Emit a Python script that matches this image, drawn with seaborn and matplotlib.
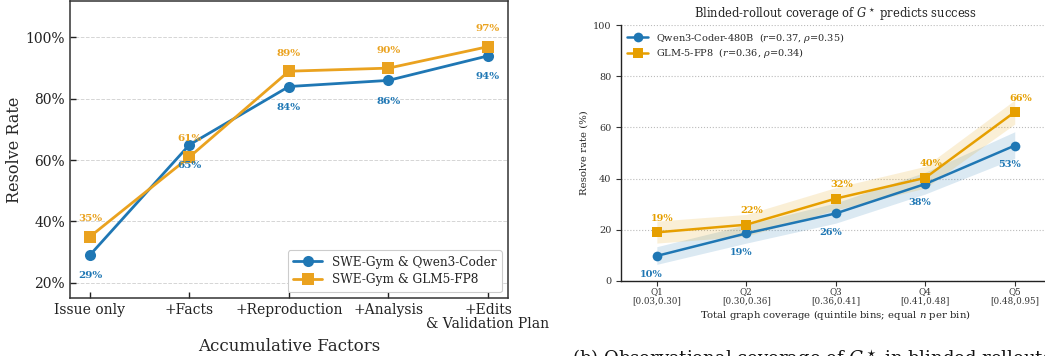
import numpy as np
import pandas as pd
import matplotlib
matplotlib.use("Agg")
import matplotlib.pyplot as plt
from matplotlib.ticker import FuncFormatter
import seaborn as sns

# ---- (a) accumulative factors ----
stages = ["Issue only", "+Facts", "+Reproduction", "+Analysis", "+Edits\n& Validation Plan"]
qwen_resolve = [29, 65, 84, 86, 94]
glm_resolve = [35, 61, 89, 90, 97]
series_a = ["SWE-Gym & Qwen3-Coder", "SWE-Gym & GLM5-FP8"]

# ---- (b) coverage quintiles ----
bins = ["Q1\n[0.03,0.30]", "Q2\n[0.30,0.36]", "Q3\n[0.36,0.41]", "Q4\n[0.41,0.48]", "Q5\n[0.48,0.95]"]
qwen_rate = [9.8, 18.6, 26.4, 37.9, 52.9]
qwen_lo = [6.5, 14.8, 22.6, 34.0, 47.9]
qwen_hi = [13.4, 22.0, 30.5, 42.5, 58.3]
glm_rate = [19.0, 22.0, 32.2, 40.3, 66.0]
glm_lo = [14.8, 17.5, 27.8, 36.3, 61.3]
glm_hi = [23.4, 26.0, 36.5, 44.8, 70.7]
series_b = [r"Qwen3-Coder-480B  ($r$=0.37, $\rho$=0.35)",
            r"GLM-5-FP8  ($r$=0.36, $\rho$=0.34)"]

BLUE = "#1f77b4"
ORANGE_A = "#EAA21F"
ORANGE_B = "#E69F00"

sns.set_theme(style="white")
plt.rcParams["font.family"] = ["DejaVu Serif"]
plt.rcParams["mathtext.fontset"] = "dejavuserif"

fig = plt.figure(figsize=(10.45, 3.56), dpi=100)

# ================= left panel =================
ax1 = fig.add_axes([0.067, 0.163, 0.419, 0.835])
idx = np.arange(len(stages))
df_a = pd.DataFrame({
    "stage": np.concatenate([idx, idx]),
    "rate": qwen_resolve + glm_resolve,
    "series": [series_a[0]] * len(idx) + [series_a[1]] * len(idx),
})
sns.lineplot(data=df_a[df_a.series == series_a[0]], x="stage", y="rate", ax=ax1,
             color=BLUE, marker="o", markersize=8, linewidth=2, markeredgewidth=0,
             label=series_a[0])
sns.lineplot(data=df_a[df_a.series == series_a[1]], x="stage", y="rate", ax=ax1,
             color=ORANGE_A, marker="s", markersize=8, linewidth=2, markeredgewidth=0,
             label=series_a[1])

for i, v in enumerate(qwen_resolve):
    ax1.annotate(f"{v}%", (i, v), xytext=(0, -15), textcoords="offset points",
                 ha="center", va="center", fontsize=7.5, fontweight="bold", color=BLUE)
for i, v in enumerate(glm_resolve):
    ax1.annotate(f"{v}%", (i, v), xytext=(0, 13), textcoords="offset points",
                 ha="center", va="center", fontsize=7.5, fontweight="bold", color=ORANGE_A)

ax1.set_xlim(-0.2, 4.2)
ax1.set_ylim(15, 112)
ax1.set_yticks([20, 40, 60, 80, 100])
ax1.yaxis.set_major_formatter(FuncFormatter(lambda v, p: f"{v:.0f}%"))
ax1.set_xticks(idx)
ax1.set_xticklabels(stages, linespacing=1.0)
ax1.tick_params(direction="in", length=4, width=1, labelsize=10, colors="#222222",
                bottom=True, left=True)
ax1.grid(axis="y", linestyle="--", color="#d5d5d5", linewidth=0.7)
ax1.set_axisbelow(True)
for s in ax1.spines.values():
    s.set_color("#333333")
    s.set_linewidth(1.1)
ax1.set_xlabel("Accumulative Factors", fontsize=12, labelpad=5)
ax1.set_ylabel("Resolve Rate", fontsize=11.5, labelpad=2)
leg1 = ax1.legend(loc="lower right", fontsize=8.7, frameon=True, fancybox=True,
                  edgecolor="#cccccc", framealpha=1, handlelength=2.4,
                  borderpad=0.45, labelspacing=0.4)
leg1.get_frame().set_linewidth(0.8)

# ================= right panel =================
ax2 = fig.add_axes([0.5943, 0.2107, 0.411, 0.719])
jdx = np.arange(len(bins))
ax2.fill_between(jdx, qwen_lo, qwen_hi, color=BLUE, alpha=0.16, linewidth=0)
ax2.fill_between(jdx, glm_lo, glm_hi, color=ORANGE_B, alpha=0.16, linewidth=0)
sns.lineplot(x=jdx, y=qwen_rate, ax=ax2, color=BLUE, marker="o", markersize=7,
             linewidth=1.8, markeredgewidth=0, label=series_b[0])
sns.lineplot(x=jdx, y=glm_rate, ax=ax2, color=ORANGE_B, marker="s", markersize=7,
             linewidth=1.8, markeredgewidth=0, label=series_b[1])

for i, v in enumerate(qwen_rate):
    ax2.annotate(f"{v:.0f}%", (i, v), xytext=(-4, -13.5), textcoords="offset points",
                 ha="center", va="center", fontsize=7, fontweight="bold", color=BLUE)
for i, v in enumerate(glm_rate):
    ax2.annotate(f"{v:.0f}%", (i, v), xytext=(4, 10), textcoords="offset points",
                 ha="center", va="center", fontsize=7, fontweight="bold", color=ORANGE_B)

ax2.set_xlim(-0.4, 4.4)
ax2.set_ylim(0, 100)
ax2.set_yticks([0, 20, 40, 60, 80, 100])
ax2.set_xticks(jdx)
ax2.set_xticklabels(bins, fontsize=6.3, linespacing=1.0)
ax2.tick_params(axis="y", labelsize=7, length=3.5, width=0.8, direction="out",
                colors="#333333", left=True)
ax2.tick_params(axis="x", length=3.5, width=0.8, direction="out",
                colors="#333333", bottom=True, pad=1)
ax2.grid(axis="y", linestyle=":", color="#bbbbbb", linewidth=0.8)
ax2.set_axisbelow(True)
sns.despine(ax=ax2)
for s in ("left", "bottom"):
    ax2.spines[s].set_color("#222222")
    ax2.spines[s].set_linewidth(1.0)
ax2.set_title(r"Blinded-rollout coverage of $G^\star$ predicts success",
              fontsize=8.3, pad=5, color="#222222")
ax2.set_xlabel(r"Total graph coverage (quintile bins; equal $n$ per bin)",
               fontsize=7.3, labelpad=2, color="#222222")
ax2.set_ylabel("Resolve rate (%)", fontsize=7.3, labelpad=3, color="#222222")
ax2.legend(loc="upper left", fontsize=7, frameon=False, handlelength=2.2,
           borderaxespad=0.2, labelspacing=0.15)

fig.text(572 / 1045, 1 - 347 / 356, r"(b) Observational coverage of $G^\star$ in blinded rollouts",
         fontsize=13, ha="left", va="top", color="#111111")

fig.savefig("out.png", dpi=100)
